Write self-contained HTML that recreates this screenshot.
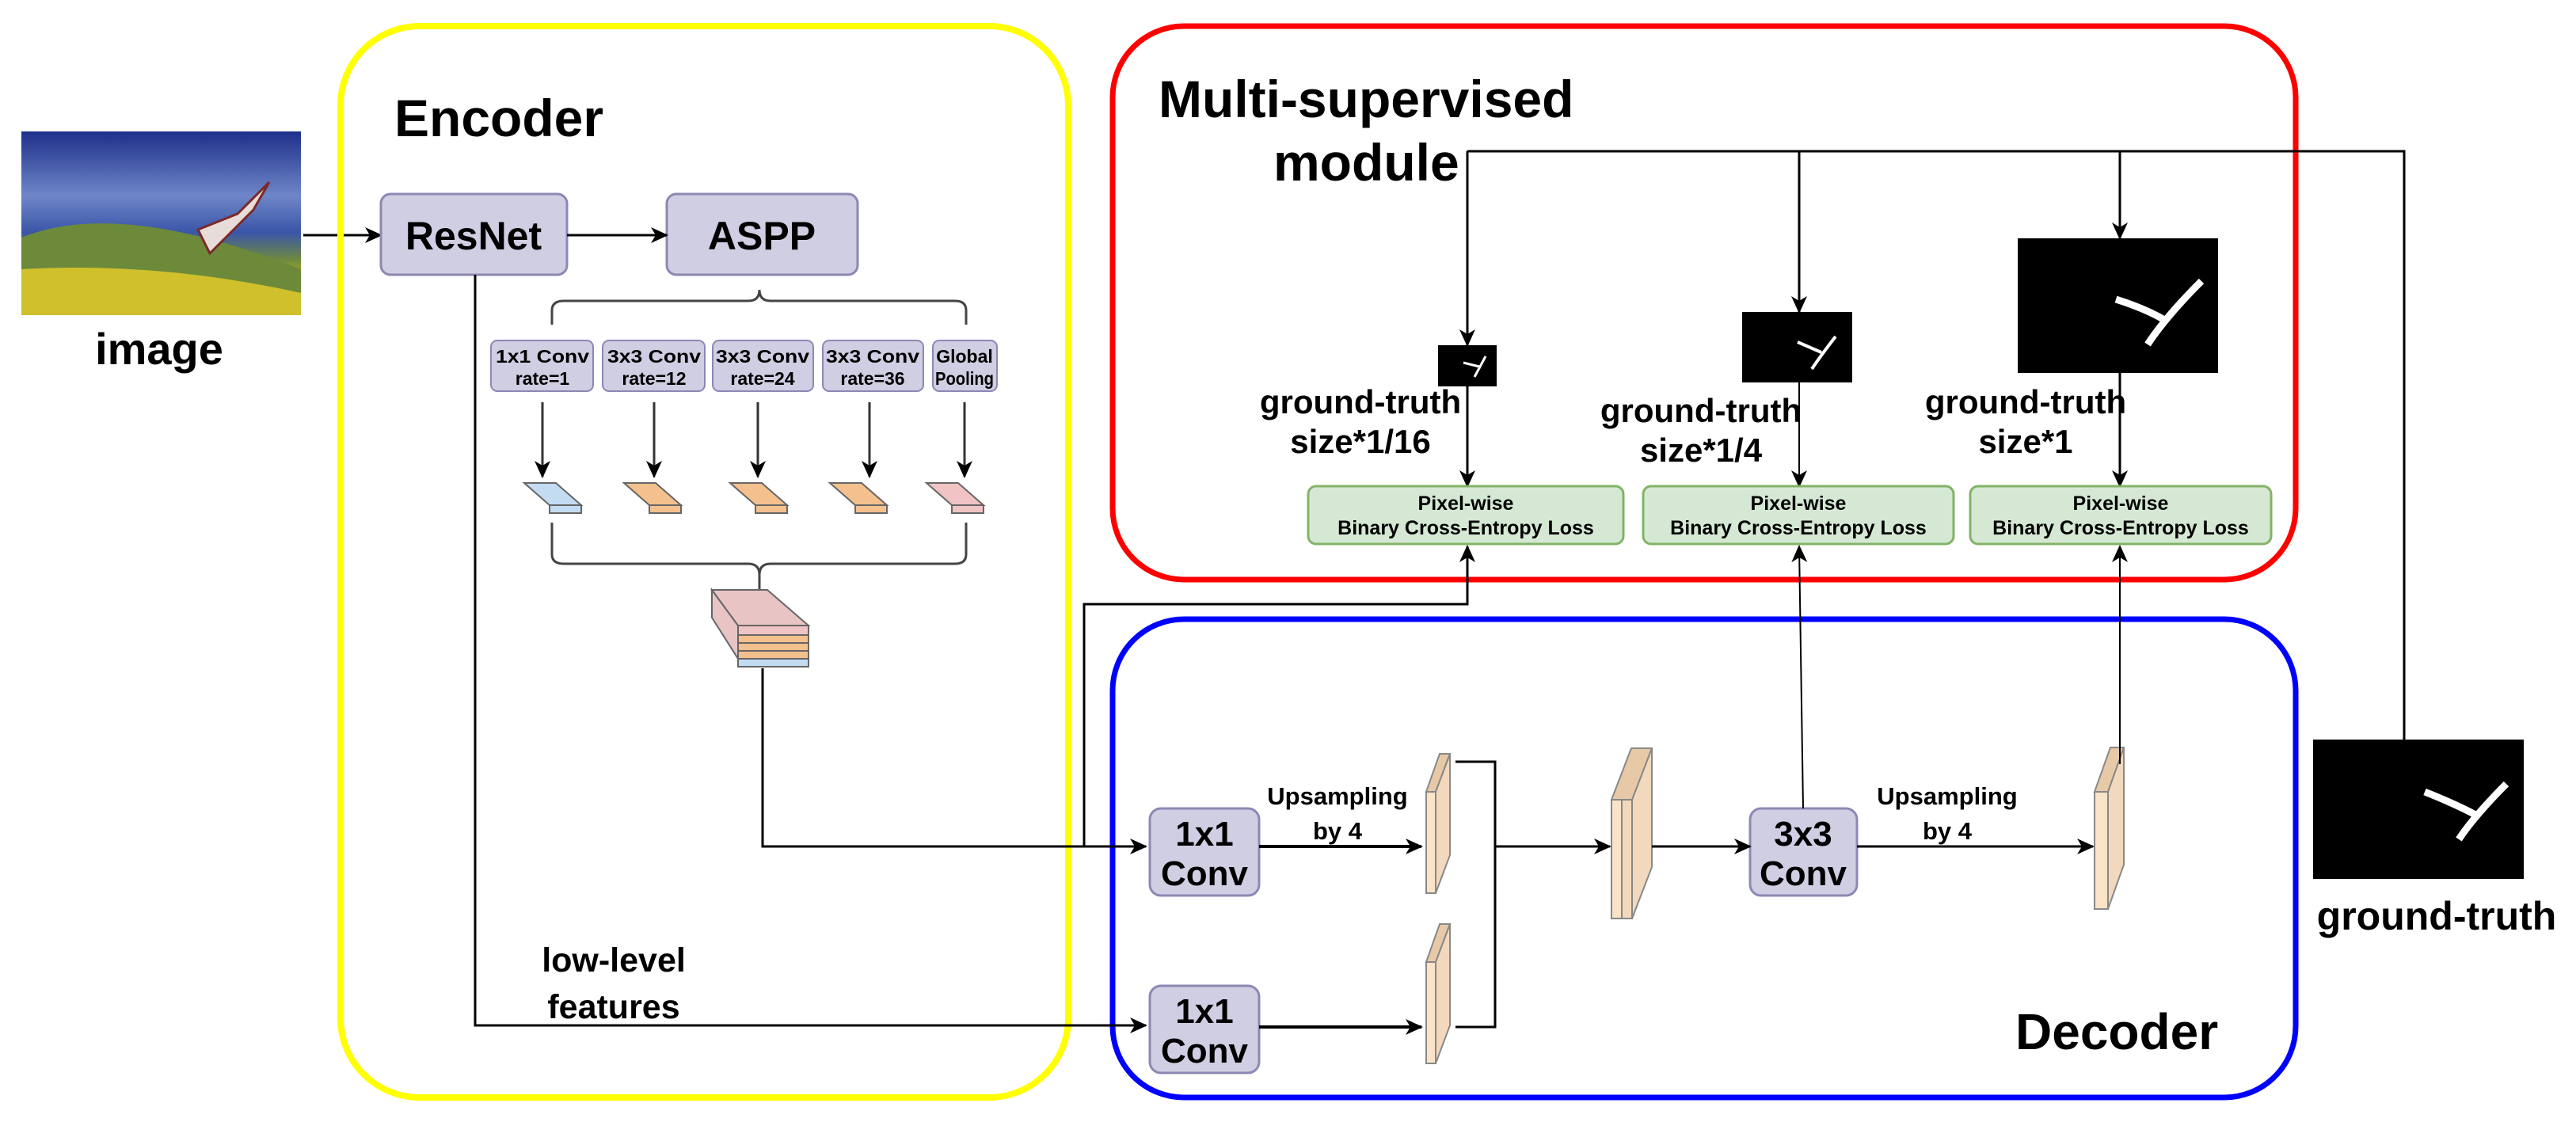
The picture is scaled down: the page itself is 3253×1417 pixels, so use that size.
<!DOCTYPE html>
<html><head><meta charset="utf-8"><style>html,body{margin:0;padding:0;background:#fff}svg{display:block}text{font-family:"Liberation Sans",Arial,sans-serif;font-weight:bold;fill:#000}</style></head><body>
<svg width="3253" height="1417" viewBox="0 0 3253 1417" xmlns="http://www.w3.org/2000/svg">
<defs>
<marker id="b" markerWidth="22" markerHeight="22" refX="20" refY="11" orient="auto" markerUnits="userSpaceOnUse"><path d="M0,1 L22,11 L0,21 L6,11 z" fill="#000"/></marker>
<linearGradient id="sky" x1="0" y1="0" x2="0" y2="1"><stop offset="0" stop-color="#1d2f8a"/><stop offset="0.35" stop-color="#6f86c8"/><stop offset="0.55" stop-color="#3a56a8"/><stop offset="0.7" stop-color="#6f8a3e"/><stop offset="0.82" stop-color="#c0b828"/><stop offset="1" stop-color="#d8cc30"/></linearGradient>
</defs>

<rect x="27" y="166" width="353" height="232" fill="url(#sky)"/>
<path d="M27,300 Q150,250 380,340 L380,398 L27,398z" fill="#6c8a3a"/>
<path d="M27,340 Q200,330 380,370 L380,398 L27,398z" fill="#cfc02c"/>
<path d="M250,290 L300,270 L340,230 L320,265 L300,285 L265,320 Z" fill="#e8dcd8" stroke="#7a2a2a" stroke-width="3"/>
<text x="201" y="460" font-size="56" text-anchor="middle">image</text>
<line x1="383" y1="297" x2="481" y2="297" stroke="#000" stroke-width="3" marker-end="url(#b)"/>

<rect x="430" y="33" width="919" height="1353" rx="100" fill="none" stroke="#ffff00" stroke-width="8"/>
<rect x="1405" y="33" width="1494" height="699" rx="90" fill="none" stroke="#ff0000" stroke-width="7"/>
<rect x="1405" y="782" width="1494" height="604" rx="90" fill="none" stroke="#0000ff" stroke-width="7"/>

<text x="498" y="172" font-size="66">Encoder</text>
<text x="1463" y="148" font-size="66">Multi-supervised</text>
<text x="1608" y="228" font-size="66">module</text>
<text x="2545" y="1325" font-size="64">Decoder</text>

<rect x="481" y="245" width="235" height="102" rx="12" fill="#d0cee2" stroke="#8c88b4" stroke-width="3"/>
<text x="598" y="315" font-size="50" text-anchor="middle">ResNet</text>
<rect x="842" y="245" width="241" height="102" rx="12" fill="#d0cee2" stroke="#8c88b4" stroke-width="3"/>
<text x="962" y="315" font-size="50" text-anchor="middle">ASPP</text>
<line x1="716" y1="297" x2="842" y2="297" stroke="#000" stroke-width="3" marker-end="url(#b)"/>

<path d="M697,410 V392 Q697,380 712,380 H945 Q959,380 959,366 Q959,380 973,380 H1206 Q1220,380 1220,392 V410" fill="none" stroke="#444" stroke-width="3"/>
<path d="M697,660 V700 Q697,712 712,712 H945 Q959,712 959,726 Q959,712 973,712 H1206 Q1220,712 1220,700 V660" fill="none" stroke="#444" stroke-width="3"/>
<line x1="959" y1="726" x2="959" y2="745" stroke="#444" stroke-width="3"/>

<g stroke="#8c88b4" stroke-width="2">
<rect x="620" y="430" width="129" height="64" rx="8" fill="#d0cee2"/>
<rect x="761" y="430" width="129" height="64" rx="8" fill="#d0cee2"/>
<rect x="900" y="430" width="127" height="64" rx="8" fill="#d0cee2"/>
<rect x="1039" y="430" width="127" height="64" rx="8" fill="#d0cee2"/>
<rect x="1178" y="430" width="81" height="64" rx="8" fill="#d0cee2"/>
</g>
<g font-size="23" text-anchor="middle" font-weight="normal">
<text x="685" y="458" textLength="118" lengthAdjust="spacingAndGlyphs">1x1 Conv</text><text x="685" y="486">rate=1</text>
<text x="826" y="458" textLength="118" lengthAdjust="spacingAndGlyphs">3x3 Conv</text><text x="826" y="486">rate=12</text>
<text x="963" y="458" textLength="118" lengthAdjust="spacingAndGlyphs">3x3 Conv</text><text x="963" y="486">rate=24</text>
<text x="1102" y="458" textLength="118" lengthAdjust="spacingAndGlyphs">3x3 Conv</text><text x="1102" y="486">rate=36</text>
<text x="1218" y="458">Global</text><text x="1218" y="486" textLength="74" lengthAdjust="spacingAndGlyphs">Pooling</text>
</g>
<g stroke="#333" stroke-width="3">
<line x1="685" y1="508" x2="685" y2="602" marker-end="url(#b)"/>
<line x1="826" y1="508" x2="826" y2="602" marker-end="url(#b)"/>
<line x1="957" y1="508" x2="957" y2="602" marker-end="url(#b)"/>
<line x1="1098" y1="508" x2="1098" y2="602" marker-end="url(#b)"/>
<line x1="1218" y1="508" x2="1218" y2="602" marker-end="url(#b)"/>
</g>
<g stroke="#666" stroke-width="2">
<path d="M662,610 h40 l32,28 h-40 z" fill="#c4dcf2"/><rect x="694" y="638" width="40" height="10" fill="#c4dcf2"/>
<path d="M788,610 h40 l32,28 h-40 z" fill="#f3c08e"/><rect x="820" y="638" width="40" height="10" fill="#f3c08e"/>
<path d="M922,610 h40 l32,28 h-40 z" fill="#f3c08e"/><rect x="954" y="638" width="40" height="10" fill="#f3c08e"/>
<path d="M1048,610 h40 l32,28 h-40 z" fill="#f3c08e"/><rect x="1080" y="638" width="40" height="10" fill="#f3c08e"/>
<path d="M1170,610 h40 l32,28 h-40 z" fill="#f0c4c4"/><rect x="1202" y="638" width="40" height="10" fill="#f0c4c4"/>
</g>
<g stroke="#666" stroke-width="2">
<path d="M899,745 L899,780 L932,832 L932,790 z" fill="#e8c4c4"/>
<path d="M899,745 h70 l52,45 h-89 z" fill="#e8c4c4"/>
<rect x="932" y="790" width="89" height="12" fill="#f0c4c4"/>
<rect x="932" y="802" width="89" height="10" fill="#f3c08e"/>
<rect x="932" y="812" width="89" height="10" fill="#f3c08e"/>
<rect x="932" y="822" width="89" height="10" fill="#f3c08e"/>
<rect x="932" y="832" width="89" height="10" fill="#c4dcf2"/>
</g>

<polyline points="963,844 963,1069 1447,1069" fill="none" stroke="#000" stroke-width="3" marker-end="url(#b)"/>
<polyline points="600,347 600,1295 1447,1295" fill="none" stroke="#000" stroke-width="3" marker-end="url(#b)"/>
<text x="775" y="1227" font-size="43" text-anchor="middle">low-level</text>
<text x="775" y="1286" font-size="43" text-anchor="middle">features</text>
<polyline points="1369,1069 1369,763 1853,763 1853,690" fill="none" stroke="#000" stroke-width="3" marker-end="url(#b)"/>

<polyline points="1853,191 3036,191 3036,934" fill="none" stroke="#000" stroke-width="3"/>
<line x1="1853" y1="191" x2="1853" y2="436" stroke="#000" stroke-width="3" marker-end="url(#b)"/>
<line x1="2272" y1="191" x2="2272" y2="394" stroke="#000" stroke-width="3" marker-end="url(#b)"/>
<line x1="2677" y1="191" x2="2677" y2="301" stroke="#000" stroke-width="3" marker-end="url(#b)"/>

<rect x="1816" y="436" width="74" height="52" fill="#000"/>
<path d="M1876,450 Q1868,465 1862,476 M1848,458 L1868,463" stroke="#fff" stroke-width="3" fill="none"/>
<rect x="2200" y="394" width="139" height="89" fill="#000"/>
<path d="M2318,425 Q2300,448 2288,466 M2270,432 L2300,445" stroke="#fff" stroke-width="4" fill="none"/>
<rect x="2548" y="301" width="253" height="170" fill="#000"/>
<path d="M2780,355 Q2735,400 2712,435 M2672,378 Q2710,390 2735,405" stroke="#fff" stroke-width="9" fill="none"/>
<rect x="2921" y="934" width="266" height="176" fill="#000"/>
<path d="M3165,990 Q3125,1030 3105,1060 M3062,1000 Q3100,1015 3128,1030" stroke="#fff" stroke-width="9" fill="none"/>
<text x="3077" y="1174" font-size="50" text-anchor="middle">ground-truth</text>

<g font-size="42" text-anchor="middle">
<text x="1718" y="522">ground-truth</text><text x="1718" y="572">size*1/16</text>
<text x="2148" y="533">ground-truth</text><text x="2148" y="583">size*1/4</text>
<text x="2558" y="522">ground-truth</text><text x="2558" y="572">size*1</text>
</g>
<line x1="1853" y1="488" x2="1853" y2="614" stroke="#000" stroke-width="3" marker-end="url(#b)"/>
<line x1="2272" y1="483" x2="2272" y2="614" stroke="#000" stroke-width="2" marker-end="url(#b)"/>
<line x1="2677" y1="471" x2="2677" y2="614" stroke="#000" stroke-width="3" marker-end="url(#b)"/>

<g stroke="#82b366" stroke-width="3" fill="#d5e8d4">
<rect x="1652" y="614" width="398" height="73" rx="10"/>
<rect x="2075" y="614" width="392" height="73" rx="10"/>
<rect x="2488" y="614" width="380" height="73" rx="10"/>
</g>
<g font-size="25" text-anchor="middle">
<text x="1851" y="644">Pixel-wise</text><text x="1851" y="675">Binary Cross-Entropy Loss</text>
<text x="2271" y="644">Pixel-wise</text><text x="2271" y="675">Binary Cross-Entropy Loss</text>
<text x="2678" y="644">Pixel-wise</text><text x="2678" y="675">Binary Cross-Entropy Loss</text>
</g>

<g stroke="#8c88b4" stroke-width="3" fill="#d0cee2">
<rect x="1452" y="1021" width="138" height="110" rx="14"/>
<rect x="1452" y="1245" width="138" height="110" rx="14"/>
<rect x="2210" y="1021" width="135" height="110" rx="14"/>
</g>
<g font-size="44" text-anchor="middle">
<text x="1521" y="1068">1x1</text><text x="1521" y="1118">Conv</text>
<text x="1521" y="1292">1x1</text><text x="1521" y="1342">Conv</text>
<text x="2277" y="1068">3x3</text><text x="2277" y="1118">Conv</text>
</g>
<g font-size="31" text-anchor="middle">
<text x="1689" y="1016">Upsampling</text><text x="1689" y="1060">by 4</text>
<text x="2459" y="1016">Upsampling</text><text x="2459" y="1060">by 4</text>
</g>
<line x1="1590" y1="1069" x2="1795" y2="1069" stroke="#000" stroke-width="4" marker-end="url(#b)"/>
<line x1="1590" y1="1297" x2="1795" y2="1297" stroke="#000" stroke-width="4" marker-end="url(#b)"/>

<g stroke="#888" stroke-width="2" fill="#f2d9bd">
<path d="M1801,1000 L1818,952 L1831,952 L1813,1000 z" fill="#e8c9a7"/>
<path d="M1813,1000 L1831,952 L1831,1080 L1813,1128 z"/>
<rect x="1801" y="1000" width="12" height="128" fill="#fbe3c8"/>
<path d="M1801,1215 L1818,1167 L1831,1167 L1813,1215 z" fill="#e8c9a7"/>
<path d="M1813,1215 L1831,1167 L1831,1295 L1813,1343 z"/>
<rect x="1801" y="1215" width="12" height="128" fill="#fbe3c8"/>
<path d="M2035,1010 L2060,945 L2086,945 L2061,1010 z" fill="#e8c9a7"/>
<path d="M2061,1010 L2086,945 L2086,1095 L2061,1160 z"/>
<rect x="2035" y="1010" width="13" height="150" fill="#fbe3c8"/>
<rect x="2048" y="1010" width="13" height="150" fill="#f2d9bd"/>
<path d="M2645,1000 L2665,944 L2682,944 L2662,1000 z" fill="#e8c9a7"/>
<path d="M2662,1000 L2682,944 L2682,1092 L2662,1148 z"/>
<rect x="2645" y="1000" width="17" height="148" fill="#fbe3c8"/>
</g>
<polyline points="1838,962 1888,962 1888,1297 1838,1297" fill="none" stroke="#000" stroke-width="3"/>
<line x1="1888" y1="1069" x2="2033" y2="1069" stroke="#000" stroke-width="3" marker-end="url(#b)"/>
<line x1="2086" y1="1069" x2="2210" y2="1069" stroke="#000" stroke-width="3" marker-end="url(#b)"/>
<line x1="2345" y1="1069" x2="2643" y2="1069" stroke="#000" stroke-width="3" marker-end="url(#b)"/>
<line x1="2277" y1="1021" x2="2272" y2="690" stroke="#000" stroke-width="2" marker-end="url(#b)"/>
<line x1="2677" y1="965" x2="2677" y2="690" stroke="#000" stroke-width="2" marker-end="url(#b)"/>
</svg>
</body></html>
